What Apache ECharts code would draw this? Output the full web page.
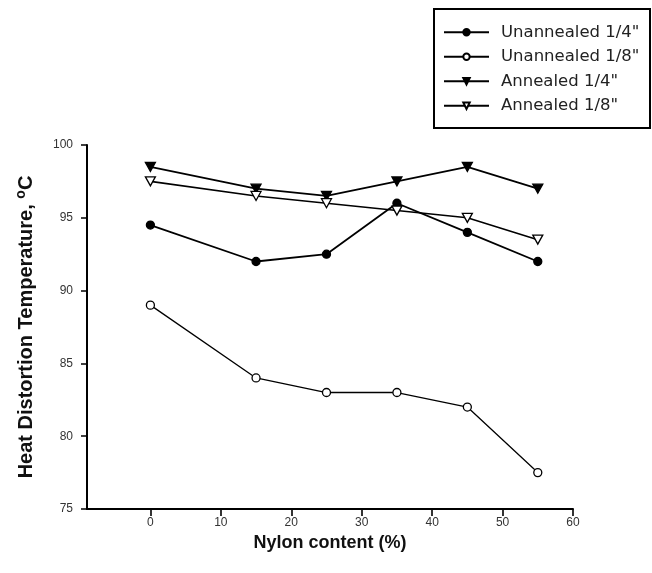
<!DOCTYPE html>
<html>
<head>
<meta charset="utf-8">
<script src="https://cdn.jsdelivr.net/npm/echarts@6/dist/echarts.min.js"></script>
<style>
  html, body { margin: 0; padding: 0; background: #fff; }
  #chart { width: 652px; height: 573px; }
</style>
</head>
<body>
<div id="chart"></div>
<script>
// Nylon content (%) of each sample
const nylonContent = [0, 15, 25, 35, 45, 55];

// Heat distortion temperature (°C) per specimen condition
const unannealedQuarter = [94.5, 92, 92.5, 96, 94, 92];
const unannealedEighth = [89, 84, 83, 83, 82, 77.5];
const annealedQuarter = [98.5, 97, 96.5, 97.5, 98.5, 97];
const annealedEighth = [97.5, 96.5, 96, 95.5, 95, 93.5];

// Axis tick values
const xTicks = [0, 10, 20, 30, 40, 50, 60];
const yTicks = [75, 80, 85, 90, 95, 100];

const seriesNames = ['Unannealed 1/4"', 'Unannealed 1/8"', 'Annealed 1/4"', 'Annealed 1/8"'];

const downTriangle = 'path://M0,0 L10,0 L5,9 Z';
const textFont = 'Liberation Sans, Arial, sans-serif';

function pairs(values) {
  return nylonContent.map((x, i) => [x, values[i]]);
}

function makeSeries(name, values, symbol, filled, width) {
  return {
    name: name,
    type: 'line',
    data: pairs(values),
    symbol: symbol,
    symbolSize: symbol === 'circle' ? 8 : [10, 9],
    lineStyle: { color: '#000', width: width },
    itemStyle: {
      color: filled ? '#000' : '#fff',
      borderColor: '#000',
      borderWidth: 1.3
    },
    emphasis: { disabled: true },
    animation: false
  };
}

const chart = echarts.init(document.getElementById('chart'));

chart.setOption({
  backgroundColor: '#fff',
  animation: false,
  grid: { left: 87, right: 79, top: 145, bottom: 64, containLabel: false },
  // frame around the legend
  graphic: [{
    type: 'rect',
    left: 433,
    top: 8,
    shape: { width: 216, height: 119 },
    style: { fill: '#fff', stroke: '#000', lineWidth: 2 },
    z: -1
  }],
  legend: {
    orient: 'vertical',
    left: 433,
    top: 14,
    padding: [9, 0, 0, 10],
    itemGap: 6,
    itemWidth: 45,
    itemHeight: 8,
    data: seriesNames,
    textStyle: {
      fontFamily: 'DejaVu Sans, sans-serif',
      fontSize: 16.5,
      lineHeight: 18.5,
      color: '#222',
      padding: [0, 0, 0, 7]
    }
  },
  xAxis: {
    type: 'value',
    min: -9,
    max: 60,
    name: 'Nylon content (%)',
    nameLocation: 'middle',
    nameGap: 17,
    nameTextStyle: {
      fontFamily: textFont,
      fontWeight: 'bold',
      fontSize: 18,
      color: '#111'
    },
    axisLine: { show: true, onZero: false, lineStyle: { color: '#000', width: 2 } },
    axisTick: {
      show: true,
      inside: false,
      length: 7,
      customValues: xTicks,
      lineStyle: { color: '#000', width: 1.6 }
    },
    axisLabel: {
      customValues: xTicks,
      margin: 8,
      fontFamily: textFont,
      fontSize: 12,
      color: '#333'
    },
    splitLine: { show: false }
  },
  yAxis: {
    type: 'value',
    min: 75,
    max: 100,
    interval: 5,
    name: '{t|Heat Distortion Temperature, }{s|o}{t|C}',
    nameLocation: 'middle',
    nameGap: 49,
    nameTextStyle: {
      rich: {
        t: {
          fontFamily: textFont,
          fontWeight: 'bold',
          fontSize: 20,
          color: '#111'
        },
        s: {
          fontFamily: textFont,
          fontWeight: 'bold',
          fontSize: 14,
          color: '#111',
          verticalAlign: 'top',
          padding: [0, 0, 10, 0]
        }
      }
    },
    axisLine: { show: true, onZero: false, lineStyle: { color: '#000', width: 2 } },
    axisTick: {
      show: true,
      inside: false,
      length: 6,
      lineStyle: { color: '#000', width: 1.5 }
    },
    axisLabel: {
      margin: 14,
      fontFamily: textFont,
      fontSize: 12,
      color: '#333',
      formatter: function (v) { return yTicks.indexOf(v) >= 0 ? String(v) : ''; }
    },
    splitLine: { show: false }
  },
  series: [
    makeSeries(seriesNames[0], unannealedQuarter, 'circle', true, 1.8),
    makeSeries(seriesNames[1], unannealedEighth, 'circle', false, 1.3),
    makeSeries(seriesNames[2], annealedQuarter, downTriangle, true, 1.8),
    makeSeries(seriesNames[3], annealedEighth, downTriangle, false, 1.6)
  ]
});
</script>
</body>
</html>
